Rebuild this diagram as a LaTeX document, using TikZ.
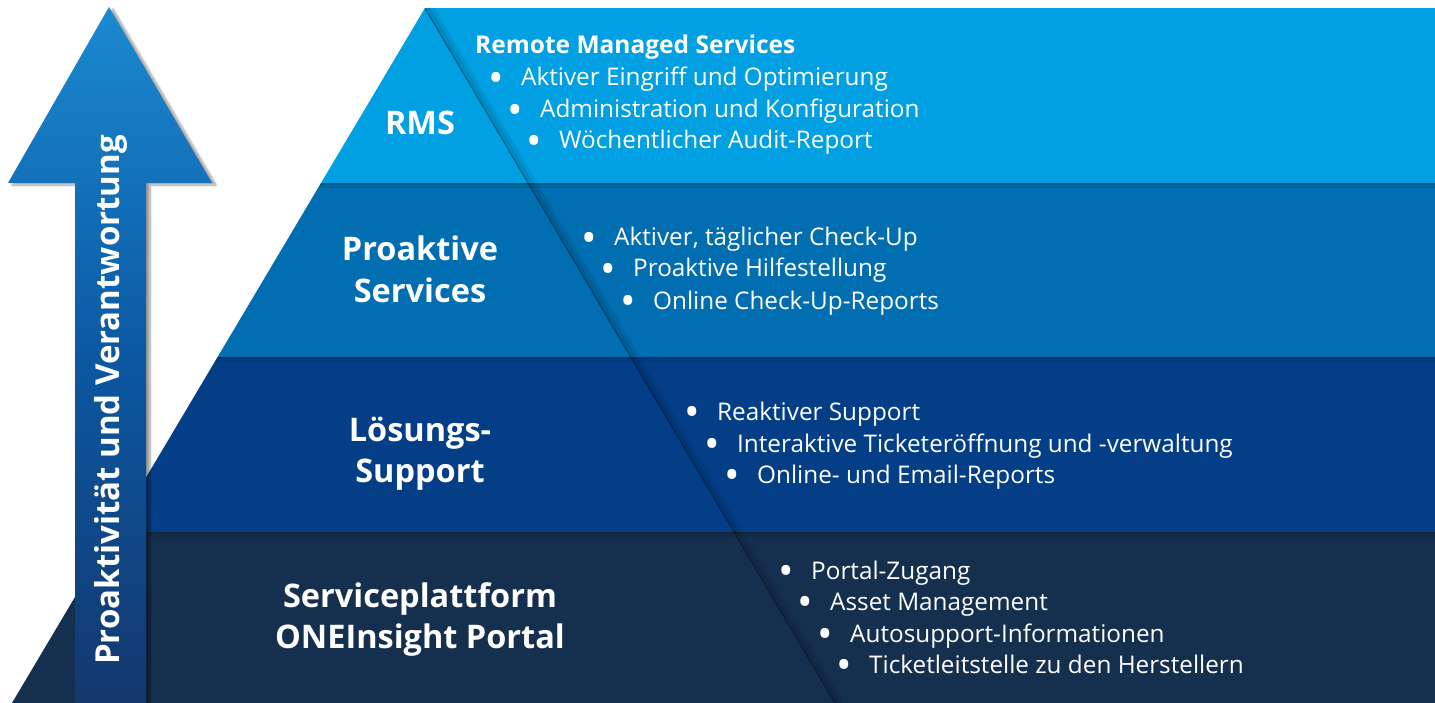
\documentclass[tikz,border=0pt]{standalone}
\usepackage{fontspec}
\setmainfont{Open Sans}
\usetikzlibrary{shadows.blur}
\definecolor{bandA}{RGB}{0,160,226}
\definecolor{bandB}{RGB}{0,110,176}
\definecolor{bandC}{RGB}{4,62,135}
\definecolor{bandD}{RGB}{21,47,79}
\definecolor{arrTop}{RGB}{26,138,208}
\definecolor{arrMid}{RGB}{11,88,162}
\definecolor{arrBot}{RGB}{20,56,110}
\newcommand{\bul}[1]{\makebox[33pt][l]{\raisebox{-0.26em}{\scalebox{1.7}{•}}}#1}
\begin{document}
\begin{tikzpicture}[x=1pt,y=-1pt,
  lvl/.style={text=white,font=\fontsize{32.5}{38}\selectfont\bfseries,anchor=base,inner sep=0pt},
  item/.style={text=white,font=\fontsize{24.3}{29}\selectfont,anchor=base west,inner sep=0pt},
  ttl/.style={text=white,font=\fontsize{24.5}{29}\selectfont\bfseries,anchor=base west,inner sep=0pt}]
\useasboundingbox (0,0) rectangle (1435,703);
% pyramid and bands
\begin{scope}
\clip (425,8) -- (1435,8) -- (1435,703) -- (12,703) -- cycle;
\fill[bandA] (0,8) rectangle (1435,183);
\fill[bandB] (0,183) rectangle (1435,357);
\fill[bandC] (0,357) rectangle (1435,532);
\fill[bandD] (0,532) rectangle (1435,703);
\foreach \yy in {183,357,532}{
  \fill[black,opacity=0.18] (0,\yy) rectangle (1435,\yy+2);
  \fill[black,opacity=0.07] (0,\yy+2) rectangle (1435,\yy+5);
}
\draw[black,opacity=0.35,line width=1.5pt] (425,8) -- (835,703);
\draw[black,opacity=0.15,line width=3pt] (428,8) -- (838,703);
\draw[black,opacity=0.07,line width=4pt] (432,8) -- (842,703);
\end{scope}
% arrow
\path[blur shadow={shadow xshift=4pt,shadow yshift=-2pt,shadow blur steps=10,shadow opacity=40},
  top color=arrTop,bottom color=arrBot,middle color=arrMid]
  (109,7) -- (212,183) -- (146,183) -- (146,703) -- (75,703) -- (75,183) -- (8,183) -- cycle;
\node[text=white,font=\fontsize{33}{38}\selectfont\bfseries,rotate=90,inner sep=0pt] (arrtxt) at (111,400) {Proaktivität und Verantwortung};
% level labels
\node[lvl] (rms) at (420,135) {RMS};
\node[lvl] (pro1) at (420,261) {Proaktive};
\node[lvl] (pro2) at (420,303) {Services};
\node[lvl] (los1) at (420,441) {Lösungs-};
\node[lvl] (los2) at (420,482) {Support};
\node[lvl] (srv1) at (420,607) {Serviceplattform};
\node[lvl] (srv2) at (420,648) {ONEInsight Portal};
% RMS items
\node[ttl] (t0) at (475,54) {Remote Managed Services};
\node[item] (a1) at (488,86) {\bul{Aktiver Eingriff und Optimierung}};
\node[item] (a2) at (507,118) {\bul{Administration und Konfiguration}};
\node[item] (a3) at (526,149) {\bul{Wöchentlicher Audit-Report}};
% Proaktive items
\node[item] (b1) at (581,246) {\bul{Aktiver, täglicher Check-Up}};
\node[item] (b2) at (600,277) {\bul{Proaktive Hilfestellung}};
\node[item] (b3) at (620,309) {\bul{Online Check-Up-Reports}};
% Loesungs items
\node[item] (c1) at (684,420) {\bul{Reaktiver Support}};
\node[item] (c2) at (704,452) {\bul{Interaktive Ticketeröffnung und -verwaltung}};
\node[item] (c3) at (724,483) {\bul{Online- und Email-Reports}};
% Service items
\node[item] (d1) at (778,579) {\bul{Portal-Zugang}};
\node[item] (d2) at (797,610) {\bul{Asset Management}};
\node[item] (d3) at (817,642) {\bul{Autosupport-Informationen}};
\node[item] (d4) at (836,673) {\bul{Ticketleitstelle zu den Herstellern}};
\end{tikzpicture}
\end{document}
